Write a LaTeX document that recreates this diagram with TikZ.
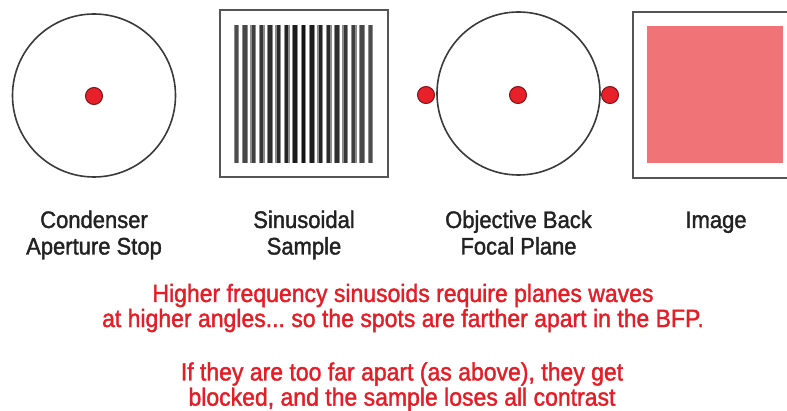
\documentclass[tikz,border=0pt]{standalone}
\usepackage{fontspec}
\setmainfont[FakeBold=1.5,FakeStretch=0.92]{Liberation Sans}
\definecolor{ringc}{HTML}{3A3A3A}
\definecolor{framec}{HTML}{555555}
\definecolor{dotfill}{HTML}{E8202A}
\definecolor{dotedge}{HTML}{7A1518}
\definecolor{pinkc}{HTML}{F07378}
\definecolor{redtext}{HTML}{E31E26}
\definecolor{labelc}{HTML}{222222}
\frenchspacing
\begin{document}
\begin{tikzpicture}[x=1pt,y=-1pt,
  ring/.style={circle,draw=ringc,line width=1.6pt,minimum size=163pt,inner sep=0pt},
  spot/.style={circle,fill=dotfill,draw=dotedge,line width=1pt,minimum size=17pt,inner sep=0pt},
  frame/.style={draw=framec,line width=1.6pt,inner sep=0pt},
  lbl/.style={anchor=base,inner sep=0pt,text=labelc,font=\fontsize{23.9}{26.5}\selectfont},
  note/.style={anchor=base,inner sep=0pt,text=redtext,font=\fontsize{25}{23}\selectfont}]
\useasboundingbox (0,0) rectangle (787,411);
\clip (0,0) rectangle (787,411);
\fill[white] (0,0) rectangle (787,411);
% condenser aperture stop
\node[ring] (cond) at (94,95.5) {};
\node[spot] (cdot) at (94,96) {};
% sinusoidal sample
\node[frame,minimum width=168pt,minimum height=167pt] (sample) at (304,93.5) {};
\foreach \i in {0,...,16}{
  \pgfmathsetmacro{\cx}{236.5+\i*8.375}
  \pgfmathtruncatemacro{\k}{92-22*abs(\i-8)/8}
  \fill[black!45] (\cx-2.9,25) rectangle (\cx+2.9,163);
  \fill[black!\k] (\cx-1.7,25) rectangle (\cx+1.7,163);
}
% objective back focal plane
\node[ring] (bfp) at (518.5,93.5) {};
\node[spot] (bdot) at (518,95) {};
\node[spot] (ldot) at (426,95) {};
\node[spot] (rdot) at (610,95) {};
% image
\node[frame,anchor=north west,minimum width=170pt,minimum height=166pt] (img) at (632,11) {};
\node[fill=pinkc,anchor=north west,inner sep=0pt,minimum width=136pt,minimum height=137pt] (imgfill) at (647,26) {};
% labels
\node[lbl] (l1) at (94,228) {\begin{tabular}[t]{@{}c@{}}Condenser\\Aperture Stop\end{tabular}};
\node[lbl] (l2) at (304,228) {\begin{tabular}[t]{@{}c@{}}Sinusoidal\\Sample\end{tabular}};
\node[lbl] (l3) at (518.5,228) {\begin{tabular}[t]{@{}c@{}}Objective Back\\Focal Plane\end{tabular}};
\node[lbl] (l4) at (716,228) {Image};
% notes
\node[note] (n1) at (403,302) {\begin{tabular}[t]{@{}c@{}}Higher frequency sinusoids require planes waves\\at higher angles... so the spots are farther apart in the BFP.\end{tabular}};
\node[note,font=\fontsize{25}{23.5}\selectfont] (n2) at (402,380.5) {\begin{tabular}[t]{@{}c@{}}If they are too far apart (as above), they get\\blocked, and the sample loses all contrast\end{tabular}};
\end{tikzpicture}
\end{document}
